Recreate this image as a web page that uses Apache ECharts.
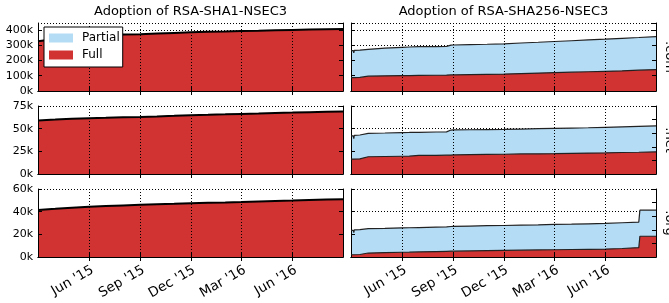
<!DOCTYPE html>
<html>
<head>
<meta charset="utf-8">
<script src="https://cdn.jsdelivr.net/npm/echarts@6/dist/echarts.min.js"></script>
<style>
html,body{margin:0;padding:0;background:#fff}
#chart{width:669px;height:303px}
</style>
</head>
<body>
<div id="chart"></div>
<script>
// labels
const titles = ['Adoption of RSA-SHA1-NSEC3', 'Adoption of RSA-SHA256-NSEC3']
const zones = ['.com', '.net', '.org']
const tickDates = ['2015-06-01', '2015-09-01', '2015-12-01', '2016-03-01', '2016-06-01']
const tickLabels = ["Jun '15", "Sep '15", "Dec '15", "Mar '16", "Jun '16"]
const xStart = '2015-03-01', xEnd = '2016-08-31'
const yMax = [445000, 75000, 60000]
const yStep = [100000, 25000, 20000]

// RSA-SHA1-NSEC3, full adoption only
const sha1Dates = ['2015-03-01','2015-04-01','2015-05-01','2015-06-01','2015-07-01','2015-08-01','2015-09-01','2015-10-01','2015-11-01','2015-12-01','2016-01-01','2016-02-01','2016-03-01','2016-04-01','2016-05-01','2016-06-01','2016-07-01','2016-08-01','2016-08-31']
const sha1Com = [326000,340000,350000,360000,365000,369000,372000,376000,380000,384000,387000,390000,393000,395000,398000,400000,402000,404000,406000]
const sha1Net = [59000,60000,61000,61600,62000,62500,63000,63500,64200,64900,65300,65800,66300,66700,67200,67700,68200,68700,69000]
const sha1Org = [41500,42500,43500,44300,45000,45500,46000,46500,47000,47500,47800,48100,48500,49000,49500,49900,50300,50700,51000]

// RSA-SHA256-NSEC3, partial (top line = partial + full) and full
const sha256Dates = ['2015-03-01','2015-03-05','2015-03-06','2015-03-07','2015-03-17','2015-03-19','2015-04-01','2015-05-01','2015-06-01','2015-06-14','2015-06-15','2015-06-16','2015-07-01','2015-08-01','2015-08-20','2015-08-28','2015-09-01','2015-10-01','2015-11-01','2015-12-01','2016-01-01','2016-02-01','2016-03-01','2016-04-01','2016-05-01','2016-06-01','2016-07-01','2016-07-31','2016-08-02','2016-08-31']
const sha256ComTotal = [264000,265000,250000,266000,268000,270000,273000,280000,286000,288000,278000,288000,290000,291000,292000,300000,301000,304000,306000,309000,314000,319000,324000,329000,334000,339000,345000,350000,351000,356000]
const sha256ComFull = [88000,88000,88000,88000,89000,96000,97000,99000,101000,101000,101000,101000,102000,103000,104000,105000,105000,107000,109000,111000,114000,117000,120000,123000,126000,129000,132000,136000,136000,140000]
const sha256NetTotal = [42000,42200,39000,42500,43000,44500,44800,45200,45700,45800,44300,45800,46000,46300,46500,48500,48600,48800,49000,49200,49600,50000,50300,50700,51000,51500,52000,52500,52600,53000]
const sha256NetFull = [16500,16500,16500,16500,16700,18800,19000,19300,19600,19700,19700,19700,20500,20600,20800,20900,21000,21300,21600,21800,22100,22300,22500,22800,23100,23300,23700,24000,24100,24500]
const sha256OrgTotal = [23500,23600,21500,24000,24200,24800,25000,25300,25700,25800,24800,25800,26000,26300,26500,26900,27000,27300,27600,27800,28100,28400,28800,29000,29300,29600,30200,30800,41300,41300]
const sha256OrgFull = [2000,2000,2000,2000,2200,3300,3500,3900,4200,4300,4300,4300,4500,4800,5000,5100,5100,5400,5600,5800,6000,6200,6400,6600,6800,7000,7500,8300,18300,18300]

const sha1 = [sha1Com, sha1Net, sha1Org]
const sha256Total = [sha256ComTotal, sha256NetTotal, sha256OrgTotal]
const sha256Full = [sha256ComFull, sha256NetFull, sha256OrgFull]

const red = '#d13232', blue = '#b5dcf5'
const font = 'DejaVu Sans'
const colLeft = [38, 351], plotW = 305
const rowTop = [23, 106, 189], plotH = 68

const ts = s => Date.parse(s + 'T00:00:00')
const tickVals = tickDates.map(ts)
const pairs = (dates, vals) => dates.map((d, i) => [ts(d), vals[i]])
const dotted = {color: '#000', width: 1, type: [1, 2]}

// vertical dotted grid at the month ticks, snapped to pixels, drawn over the fills
const vGrid = (params, api) => {
    var cs = params.coordSys
    var x = Math.round(api.coord([api.value(0), 0])[0]) + 0.5
    return {type: 'line', shape: {x1: x, y1: cs.y, x2: x, y2: cs.y + cs.height},
        style: {stroke: '#000', lineWidth: 1, lineDash: [1, 2]}}
}

var grids = [], xAxes = [], yAxes = [], series = [], graphics = []

for (var r = 0; r < 3; r++) {
    for (var c = 0; c < 2; c++) {
        var g = grids.length
        grids.push({left: colLeft[c], top: rowTop[r], width: plotW, height: plotH})
        // bottom + top x axes (timestamps on a value axis)
        xAxes.push({
            type: 'value', gridIndex: g, min: ts(xStart), max: ts(xEnd), z: 3,
            axisLine: {lineStyle: {color: '#000', width: 1}},
            axisTick: {customValues: tickVals, inside: true, length: 4, lineStyle: {color: '#000'}},
            axisLabel: {
                show: r == 2, customValues: tickVals, rotate: 30, margin: 6,
                align: 'right', verticalAlign: 'top',
                fontFamily: font, fontSize: 13.5, color: '#000',
                formatter: v => {
                    var i = tickVals.findIndex(t => Math.abs(t - v) < 86400000)
                    return i < 0 ? '' : tickLabels[i]
                }
            },
            splitLine: {show: false}
        })
        xAxes.push({
            type: 'value', gridIndex: g, position: 'top', min: ts(xStart), max: ts(xEnd), z: 3,
            axisLine: {lineStyle: {color: '#000', width: 1}},
            axisTick: {customValues: tickVals, inside: true, length: 4, lineStyle: {color: '#000'}},
            axisLabel: {show: false},
            splitLine: {show: false}
        })
        // left + right y axes
        yAxes.push({
            type: 'value', gridIndex: g, min: 0, max: yMax[r], interval: yStep[r], z: 3,
            axisLine: {show: true, lineStyle: {color: '#000', width: 1}},
            axisTick: {show: true, inside: true, length: 4, lineStyle: {color: '#000'}},
            axisLabel: {
                show: c == 0, margin: 5, fontFamily: font, fontSize: 11, color: '#000',
                formatter: v => v % yStep[r] ? '' : (v / 1000) + 'k'
            },
            splitLine: {show: true, lineStyle: dotted}
        })
        var twin = c == 1 && r > 0
        yAxes.push({
            type: 'value', gridIndex: g, position: 'right', z: 3,
            min: 0, max: twin ? 1 : yMax[r], interval: twin ? 0.2 : yStep[r],
            axisLine: {show: true, lineStyle: {color: '#000', width: 1}},
            axisTick: {show: true, inside: true, length: 4, lineStyle: {color: '#000'}},
            axisLabel: {show: false},
            splitLine: {show: false}
        })
        if (c == 0) {
            series.push({
                name: 'Full', type: 'line', xAxisIndex: 2 * g, yAxisIndex: 2 * g,
                data: pairs(sha1Dates, sha1[r]), showSymbol: false, silent: true,
                itemStyle: {color: red},
                lineStyle: {color: '#000', width: 2},
                areaStyle: {color: red, opacity: 1}
            })
        } else {
            series.push({
                name: 'Partial', type: 'line', xAxisIndex: 2 * g, yAxisIndex: 2 * g,
                data: pairs(sha256Dates, sha256Total[r]), showSymbol: false, silent: true,
                itemStyle: {color: blue},
                lineStyle: {color: '#222', width: 1.2},
                areaStyle: {color: blue, opacity: 1}
            })
            series.push({
                name: 'Full', type: 'line', xAxisIndex: 2 * g, yAxisIndex: 2 * g,
                data: pairs(sha256Dates, sha256Full[r]), showSymbol: false, silent: true,
                itemStyle: {color: red},
                lineStyle: {color: '#222', width: 1.2},
                areaStyle: {color: red, opacity: 1}
            })
        }
        series.push({
            type: 'custom', xAxisIndex: 2 * g, yAxisIndex: 2 * g, z: 4, silent: true,
            data: tickVals.map(v => [v, 0]), encode: {x: 0, y: 1},
            renderItem: vGrid
        })
    }
    graphics.push({
        type: 'text', x: 663, y: rowTop[r] + plotH / 2, rotation: -Math.PI / 2,
        style: {text: zones[r], fontFamily: font, fontSize: 13, fill: '#000', align: 'center', verticalAlign: 'bottom'}
    })
}
titles.forEach((t, i) => graphics.push({
    type: 'text', x: colLeft[i] + plotW / 2, y: 12,
    style: {text: t, fontFamily: font, fontSize: 13, fill: '#000', align: 'center', verticalAlign: 'middle'}
}))

var chart = echarts.init(document.getElementById('chart'), null, {renderer: 'canvas'})
chart.setOption({
    animation: false,
    backgroundColor: '#fff',
    grid: grids,
    xAxis: xAxes,
    yAxis: yAxes,
    series: series,
    legend: {
        data: [{name: 'Partial', itemStyle: {color: blue}}, {name: 'Full', itemStyle: {color: red}}],
        left: 44, top: 27, orient: 'vertical', z: 10,
        icon: 'rect', itemWidth: 24, itemHeight: 9, itemGap: 5,
        padding: [5, 3, 6, 5],
        backgroundColor: '#fff', borderColor: '#000', borderWidth: 1,
        itemStyle: {borderWidth: 0},
        textStyle: {fontFamily: font, fontSize: 12, color: '#000', padding: [0, 0, 0, 4]},
        selectedMode: false
    },
    graphic: graphics
})
</script>
</body>
</html>
